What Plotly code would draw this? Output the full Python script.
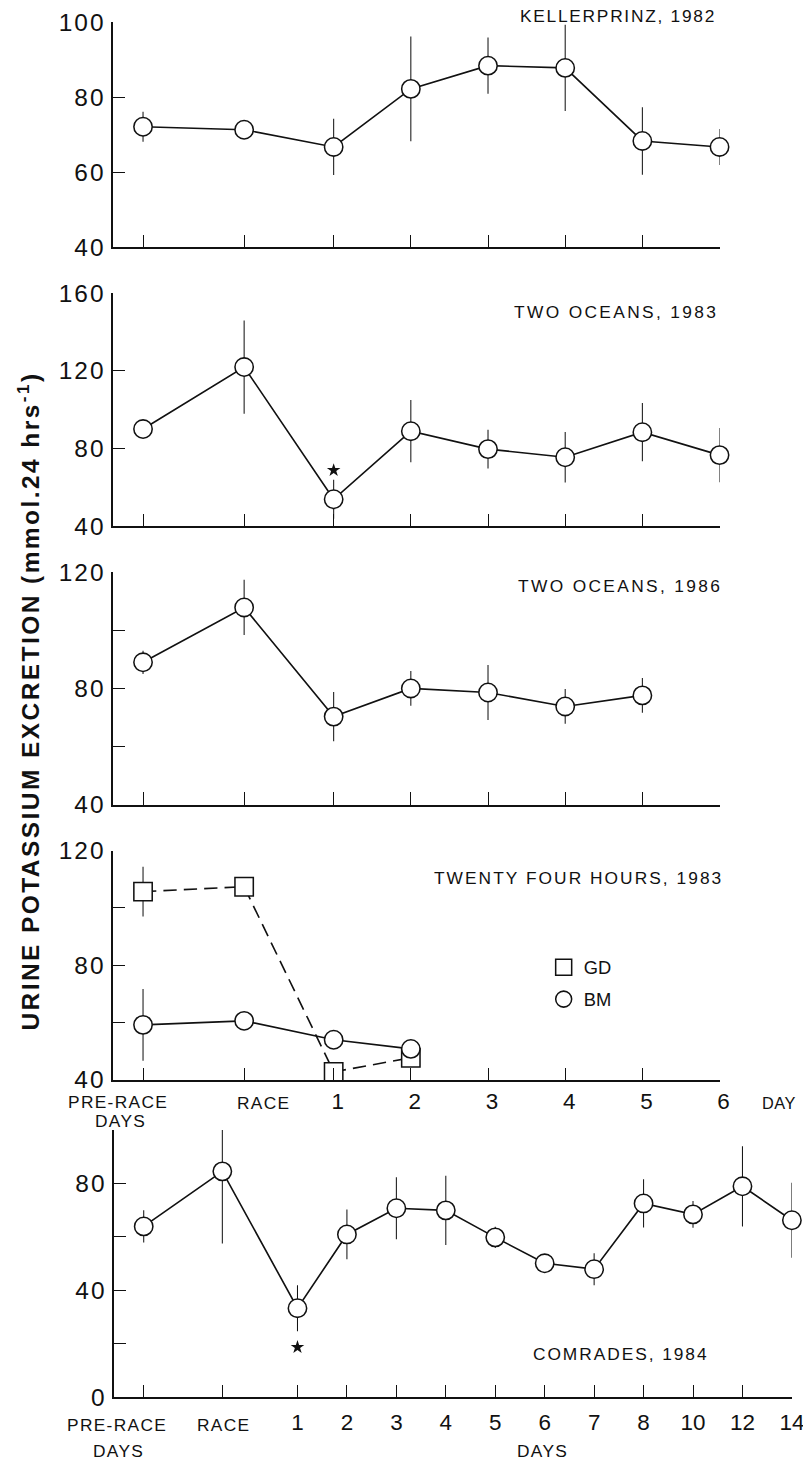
import plotly.graph_objects as go

# The photographed page is scaled to fit: picture = S * page + (0, OY).
# All positions below are given in picture (reference) pixels and mapped back.
S = 0.9805
OY = 14.3
K = 1 / S
W, H = 819, 1465

# ---------------- data ----------------
stages_short = ["PRE-RACE", "RACE", "1", "2", "3", "4", "5", "6"]

kp82_mean = [72.1, 71.3, 66.7, 82.2, 88.4, 87.8, 68.3, 66.7]
kp82_sem = [4.0, 2.0, 7.5, 14.0, 7.5, 11.5, 9.0, 4.8]

to83_mean = [90.0, 121.9, 53.9, 88.9, 79.7, 75.5, 88.4, 76.6]
to83_sem = [3.0, 24.0, 10.0, 16.0, 10.0, 13.0, 15.0, 14.0]

to86_mean = [89.0, 107.9, 70.3, 80.0, 78.6, 73.8, 77.6]
to86_sem = [4.0, 9.5, 8.5, 6.0, 9.5, 6.0, 6.0]

tfh83_gd_mean = [105.7, 107.4, 42.8, 47.7]
tfh83_gd_sem = [8.7, 0.0, 0.0, 0.0]
tfh83_bm_mean = [59.2, 60.6, 54.0, 50.8]
tfh83_bm_sem = [12.5, 0.0, 0.0, 0.0]

stages_long = ["PRE-RACE", "RACE", "1", "2", "3", "4", "5", "6", "7", "8", "10", "12", "14"]
com84_mean = [63.9, 84.5, 33.3, 60.9, 70.7, 69.9, 59.8, 50.1, 47.9, 72.5, 68.4, 78.9, 66.2]
com84_sem = [6.0, 27.0, 8.6, 9.3, 11.6, 13.0, 4.0, 3.5, 6.0, 9.0, 5.0, 15.0, 14.0]

# significance stars (stage, y-value where the star sits)
sig_to83 = (["1"], [68.8])
sig_to86 = (["RACE"], [120.3])
sig_com84 = (["1"], [18.7])

titles = ["KELLERPRINZ, 1982", "TWO OCEANS, 1983", "TWO OCEANS, 1986",
          "TWENTY FOUR HOURS, 1983", "COMRADES, 1984"]

# ---------------- axis scales (uneven category spacing) ----------------
short_scale = dict(zip(stages_short, [-1.47, -0.16, 1, 2, 3, 4, 5, 6]))
long_scale = dict(zip(stages_long, [-2.11, -0.52, 1, 2, 3, 4, 5, 6, 7, 8, 9, 10, 11]))

FONT = "Liberation Sans, Arial, Helvetica, sans-serif"
BLACK = "#111111"


def px_x(r):
    return (r / S) / W


def px_y(r):
    return 1 - ((r - OY) / S) / H


def sz(v):
    return v * K


def spaced(s, ls):
    return '<span style="letter-spacing:%.2fpx">%s</span>' % (ls * K, s)


fig = go.Figure()


def add_series(ax, scale, stages, mean, sem, symbol="circle", dash="solid", name=None):
    fig.add_trace(go.Scatter(
        x=[scale[s] for s in stages[:len(mean)]], y=mean,
        mode="lines+markers",
        line=dict(color=BLACK, width=sz(1.6), dash=dash),
        marker=dict(symbol=symbol, size=sz(18), color="white", line=dict(color=BLACK, width=sz(1.5))),
        error_y=dict(type="data", array=sem, visible=True, color=BLACK, thickness=sz(1), width=0),
        xaxis="x" + ax, yaxis="y" + ax, cliponaxis=False, showlegend=False, name=name or "",
    ))


def add_stars(ax, scale, sig):
    fig.add_trace(go.Scatter(
        x=[scale[s] for s in sig[0]], y=sig[1], mode="markers",
        marker=dict(symbol="star", size=sz(10), color=BLACK, line=dict(width=0)),
        xaxis="x" + ax, yaxis="y" + ax, cliponaxis=False, showlegend=False,
    ))


add_series("", short_scale, stages_short, kp82_mean, kp82_sem)
add_series("2", short_scale, stages_short, to83_mean, to83_sem)
add_stars("2", short_scale, sig_to83)
add_series("3", short_scale, stages_short, to86_mean, to86_sem)
add_stars("3", short_scale, sig_to86)
add_series("4", short_scale, stages_short, tfh83_gd_mean, tfh83_gd_sem, symbol="square",
           dash="%.1fpx,%.1fpx" % (sz(13), sz(7)), name="GD")
add_series("4", short_scale, stages_short, tfh83_bm_mean, tfh83_bm_sem, symbol="circle", name="BM")
add_series("5", long_scale, stages_long, com84_mean, com84_sem)
add_stars("5", long_scale, sig_com84)

# legend-only entries
for nm, sym, grp in [("GD", "square", "g1"), ("BM", "circle", "g2")]:
    fig.add_trace(go.Scatter(
        x=[None], y=[None], mode="markers", name=nm, legendgroup=grp,
        marker=dict(symbol=sym, size=16, color="white", line=dict(color=BLACK, width=sz(1.5))),
        xaxis="x4", yaxis="y4", showlegend=True,
    ))

# ---------------- axes ----------------
panels = [
    # (suffix, ydomain px (top,bottom), yrange, yticks, ylabels)
    ("", (23.5, 248), [40, 100], [40, 60, 80, 100], ["40", "60", "80", "100"]),
    ("2", (294, 527), [40, 160], [40, 80, 120, 160], ["40", "80", "120", "160"]),
    ("3", (573, 805), [40, 120], [40, 60, 80, 100, 120], ["40", "", "80", "", "120"]),
    ("4", (851, 1080), [40, 120], [40, 60, 80, 100, 120], ["40", "", "80", "", "120"]),
    ("5", (1130, 1397), [0, 100], [0, 20, 40, 60, 80, 100], ["0", "", "40", "", "80", ""]),
]

layout = dict(
    width=W, height=H, margin=dict(l=0, r=0, t=0, b=0),
    paper_bgcolor="white", plot_bgcolor="white",
    font=dict(family=FONT, color=BLACK),
    showlegend=True,
    legend=dict(x=px_x(541), y=px_y(949), xanchor="left", yanchor="top",
                font=dict(size=sz(18), family=FONT, color=BLACK), bgcolor="rgba(0,0,0,0)",
                traceorder="grouped", tracegroupgap=sz(5), itemwidth=30),
)

for suf, (ytop, ybot), yr, yt, yl in panels:
    is_long = suf == "5"
    scale = long_scale if is_long else short_scale
    stages = stages_long if is_long else stages_short
    xl, xr = (113, 788) if is_long else (112, 716)
    xrange = [-2.72, 11] if is_long else [-1.865, 6]
    if suf == "4":
        xt = ["", ""] + stages_short[2:]
    elif suf == "5":
        xt = ["", ""] + stages_long[2:]
    else:
        xt = [""] * len(stages)
    layout["xaxis" + suf] = dict(
        domain=[px_x(xl), px_x(xr)], range=xrange, anchor="y" + suf,
        showline=True, linecolor=BLACK, linewidth=sz(2), showgrid=False, zeroline=False,
        ticks="inside", ticklen=sz(12), tickwidth=sz(1.2), tickcolor=BLACK,
        tickvals=[scale[s] for s in stages], ticktext=xt,
        tickfont=dict(size=sz(22), family=FONT, color=BLACK),
        ticklabelstandoff=(4 if is_long else 0),
        ticklabelshift=(0 if is_long else 4),
    )
    layout["yaxis" + suf] = dict(
        domain=[px_y(ybot), px_y(ytop)], range=yr, anchor="x" + suf,
        showline=True, linecolor=BLACK, linewidth=sz(2), showgrid=False, zeroline=False,
        ticks="inside", ticklen=sz(12), tickwidth=sz(1.2), tickcolor=BLACK,
        tickvals=yt, ticktext=[spaced(t, 2) if t else "" for t in yl],
        tickfont=dict(size=sz(24), family=FONT, color=BLACK),
        ticklabelstandoff=0,
    )

fig.update_layout(**layout)

# ---------------- annotations ----------------
ann = []


def text(x, y, s, size, xanchor="center", yanchor="middle", angle=0, ls=0):
    ann.append(dict(x=px_x(x), y=px_y(y), xref="paper", yref="paper",
                    text=spaced(s, ls) if ls else s, showarrow=False,
                    xanchor=xanchor, yanchor=yanchor, textangle=angle,
                    font=dict(size=sz(size), family=FONT, color=BLACK)))


text(714, 17, titles[0], 17, xanchor="right", ls=1.7)
text(716, 313, titles[1], 17, xanchor="right", ls=2.3)
text(720, 587, titles[2], 17, xanchor="right", ls=2.3)
text(721, 878, titles[3], 17, xanchor="right", ls=2.0)
text(617, 1354, titles[4], 17, ls=1.9)

# x label words, panel 4
text(117, 1102, "PRE-RACE", 17, ls=1.3)
text(120, 1121, "DAYS", 17, ls=1.3)
text(262, 1103, "RACE", 17, ls=1.3)
text(775, 1103, "DAY", 16, ls=0.5)
# x label words, panel 5
text(116, 1425, "PRE-RACE", 17, ls=1.3)
text(118, 1451, "DAYS", 17, ls=1.3)
text(222, 1425, "RACE", 17, ls=1.3)
text(540, 1451, "DAYS", 17, ls=1.3)

# y-axis title
text(28, 702, "<b>URINE POTASSIUM EXCRETION (mmol.24 hrs<sup>-1</sup>)</b>", 24, angle=-90, ls=2.4)

fig.update_layout(annotations=ann)

fig.write_html("out.html")
